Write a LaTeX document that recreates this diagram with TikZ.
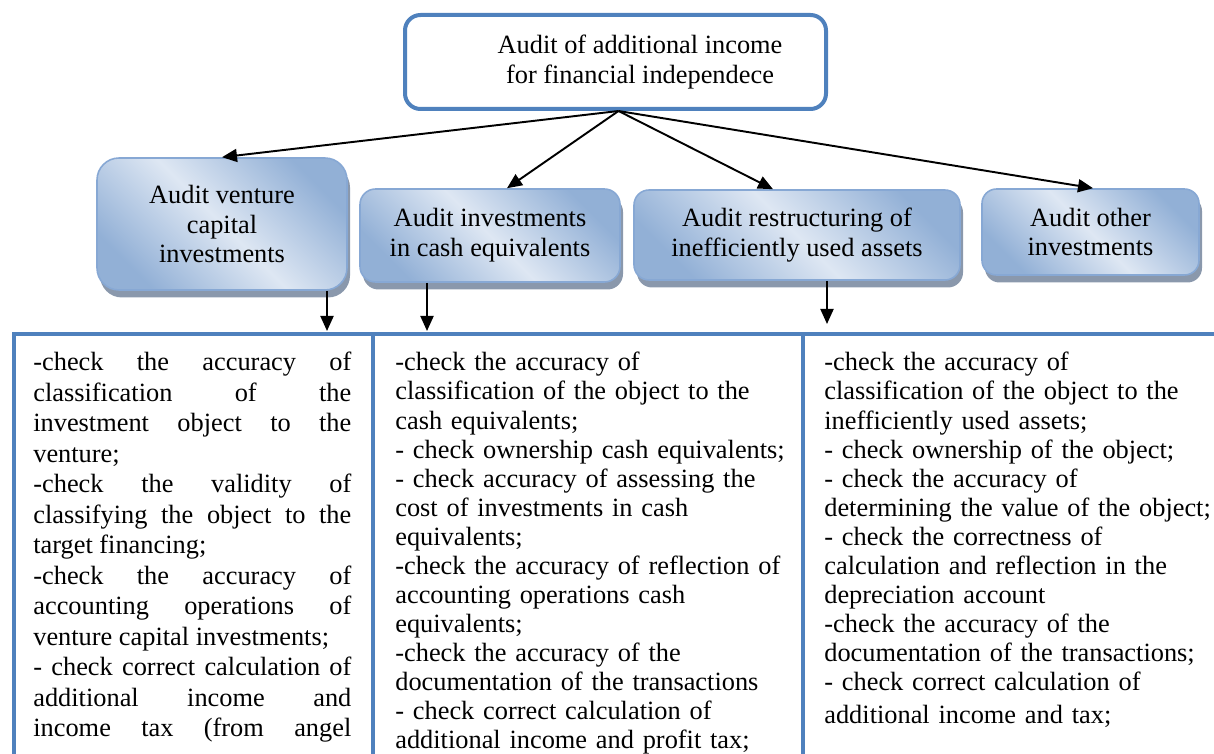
\documentclass[tikz,border=0pt]{standalone}
\usepackage{fontspec}
\setmainfont{Liberation Serif}
\usepackage{tikz}
\usetikzlibrary{arrows.meta,positioning,shadows}
\definecolor{frameblue}{RGB}{79,129,189}
\definecolor{boxdark}{RGB}{146,176,214}
\definecolor{boxlight}{RGB}{222,231,243}
\definecolor{boxedge}{RGB}{135,168,212}
\definecolor{shadowgray}{RGB}{138,152,172}
\tolerance=10000
\hbadness=10000
\tikzset{
  headbox/.style={rectangle,rounded corners=0.31cm,draw=frameblue,
    line width=0.08cm,fill=white,minimum width=8.42cm,minimum height=1.88cm},
  topicbox/.style={rectangle,draw=boxedge,line width=0.9pt,
    top color=boxdark,bottom color=boxdark,middle color=boxlight,
    shading angle=-45,align=center,inner sep=2pt,
    font=\fontsize{15}{17}\selectfont,
    drop shadow={shadow xshift=0.06cm,shadow yshift=-0.15cm,
      fill=shadowgray,opacity=1}},
  flow/.style={-{Triangle[length=0.3cm,width=0.26cm]},line width=1.1pt}}

\begin{document}
\begin{tikzpicture}[
  checklist/.style={anchor=north west,inner sep=0pt,align=left,
    text width=8.1cm,font=\fontsize{15}{16.55}\selectfont},
  justlist/.style={checklist,align=justify,text width=6.36cm,
    font=\fontsize{15}{17.35}\selectfont},
  gridline/.style={draw=frameblue,line width=0.08cm}]

  \path[use as bounding box] (0,0) rectangle (24.28,15.06);
  \clip (0,0) rectangle (24.28,15.06);

  \node[headbox] (audit) at (12.31,13.82) {};
  \node[align=center,inner sep=0pt,font=\fontsize{15}{17}\selectfont]
    (audittitle) at ([xshift=0.49cm]audit.center)
    {Audit of additional income\\for financial independece};
  \coordinate (fork) at ([xshift=0.06cm]audit.south);

  \node[topicbox,rounded corners=0.44cm,minimum width=5.0cm,
    minimum height=2.64cm] (venture) at (4.44,10.58)
    {Audit venture\\capital\\investments};
  \node[topicbox,rounded corners=0.31cm,minimum width=5.2cm,
    minimum height=1.86cm] (cash) at (9.80,10.35)
    {Audit investments\\in cash equivalents};
  \node[topicbox,rounded corners=0.30cm,minimum width=6.52cm,
    minimum height=1.8cm] (assets) at (15.94,10.36)
    {Audit restructuring of\\inefficiently used assets};
  \node[topicbox,rounded corners=0.29cm,minimum width=4.34cm,
    minimum height=1.72cm] (other) at (21.81,10.42)
    {Audit other\\investments};

  \draw[flow] (fork) -- (venture.north);
  \draw[flow] (fork) -- ([xshift=0.34cm]cash.north);
  \draw[flow] (fork) -- ([xshift=-0.48cm]assets.north);
  \draw[flow] (fork) -- ([xshift=0.05cm]other.north);

  \coordinate (tabletop) at (0,8.44);
  \coordinate (assetsgap) at (0,8.58);
  \draw[flow] ([xshift=2.1cm]venture.south) --
    ([xshift=2.1cm]venture.south |- tabletop);
  \draw[flow] ([xshift=-1.26cm]cash.south) --
    ([xshift=-1.26cm]cash.south |- tabletop);
  \draw[flow] ([xshift=0.6cm]assets.south) --
    ([xshift=0.6cm]assets.south |- assetsgap);

  \draw[gridline] (24.6,8.38) -- (0.28,8.38) -- (0.28,-0.3);
  \draw[gridline] (7.46,8.38) -- (7.46,-0.3);
  \draw[gridline] (16.06,8.38) -- (16.06,-0.3);

  \node[justlist] (venturechecks) at (0.66,8.02)
    {-check the accuracy of\linebreak
     classification of the\linebreak
     investment object to the\linebreak
     venture;\\
     -check the validity of\linebreak
     classifying the object to the\linebreak
     target financing;\\
     -check the accuracy of\linebreak
     accounting operations of\linebreak
     venture capital investments;\\
     - check correct calculation of\linebreak
     additional income and\linebreak
     \makebox[\linewidth][s]{income tax (from angel}};
  \node[checklist] (cashchecks) at (7.90,8.02)
    {-check the accuracy of\\
     classification of the object to the\\
     cash equivalents;\\
     - check ownership cash equivalents;\\
     - check accuracy of assessing the\\
     cost of investments in cash\\
     equivalents;\\
     -check the accuracy of reflection of\\
     accounting operations cash\\
     equivalents;\\
     -check the accuracy of the\\
     documentation of the transactions\\
     - check correct calculation of\\
     additional income and profit tax;};
  \node[checklist] (assetchecks) at (16.48,8.02)
    {-check the accuracy of\\
     classification of the object to the\\
     inefficiently used assets;\\
     - check ownership of the object;\\
     - check the accuracy of\\
     determining the value of the object;\\
     - check the correctness of\\
     calculation and reflection in the\\
     depreciation account\\
     -check the accuracy of the\\
     documentation of the transactions;\\
     - check correct calculation of\\[2pt]
     additional income and tax;};
\end{tikzpicture}
\end{document}
